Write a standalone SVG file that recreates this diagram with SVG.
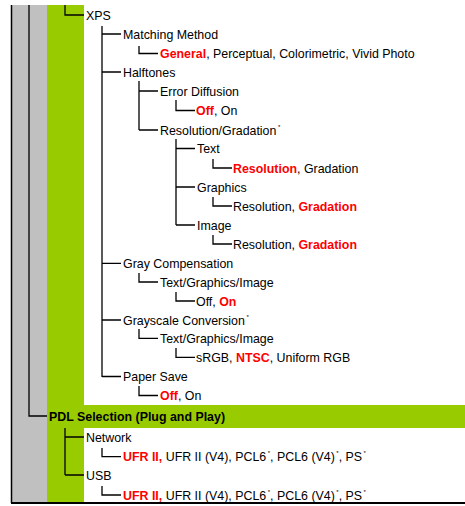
<svg xmlns="http://www.w3.org/2000/svg" width="465" height="506" viewBox="0 0 465 506">
<style>
text{font-family:"Liberation Sans",Arial,sans-serif;font-size:12.4px;fill:#000}
.b{font-weight:bold}
.r{font-weight:bold;fill:#ff0000}
.sup{font-size:6px}
.c{stroke:#000;stroke-width:1.3;fill:none}
</style>
<rect width="465" height="506" fill="#fff"/>
<g id="bands">
<rect x="11" y="5" width="36" height="498" fill="#c0c0c0"/>
<rect x="47" y="5" width="37" height="498" fill="#99cc00"/>
<rect x="47" y="405" width="418" height="23" fill="#99cc00"/>
<line x1="11.5" y1="5" x2="11.5" y2="503" stroke="#000" stroke-width="1.5"/>
<rect x="11" y="502" width="454" height="2" fill="#000"/>
</g>
<g id="connectors" class="c">
<path d="M29 5V416H47"/>
<path d="M65 5V15H84"/>
<path d="M102 26V377"/>
<path d="M102 34H121M102 72H121M102 263.3H121M102 320H121M102 376.5H121"/>
<path d="M139 46V53.5H158"/>
<path d="M139 81V130M139 91H158M139 130H158"/>
<path d="M176 100V110.5H195"/>
<path d="M176 139V225M176 148.5H195M176 187H195M176 225H195"/>
<path d="M213 159V168H232M213 197V206H232M213 235V244H232"/>
<path d="M139 273V282H158"/>
<path d="M176 292V301H195"/>
<path d="M139 329V338.3H158"/>
<path d="M176 348V357.3H195"/>
<path d="M139 386V395.5H158"/>
<path d="M65 428V475M65 437H84M65 475H84"/>
<path d="M102 448V456.7H121M102 486V495H121"/>
</g>
<g id="n-xps"><text x="86" y="19.5">XPS</text></g>
<g id="n-matching"><text x="123" y="38.5">Matching Method</text></g>
<g id="n-matching-opt"><text x="160" y="58"><tspan class="r">General</tspan>, Perceptual, Colorimetric, Vivid Photo</text></g>
<g id="n-halftones"><text x="123" y="76.5">Halftones</text></g>
<g id="n-error"><text x="160" y="95.5">Error Diffusion</text></g>
<g id="n-error-opt"><text x="196" y="115"><tspan class="r">Off</tspan>, On</text></g>
<g id="n-resgrad"><text x="160" y="134.5">Resolution/Gradation<tspan class="sup" dx="1.5" dy="-6">*</tspan></text></g>
<g id="n-text"><text x="197" y="153">Text</text></g>
<g id="n-text-opt"><text x="233" y="172.5"><tspan class="r">Resolution</tspan>, Gradation</text></g>
<g id="n-graphics"><text x="197" y="191.5">Graphics</text></g>
<g id="n-graphics-opt"><text x="233" y="210.5">Resolution, <tspan class="r">Gradation</tspan></text></g>
<g id="n-image"><text x="197" y="229.5">Image</text></g>
<g id="n-image-opt"><text x="233" y="248.5">Resolution, <tspan class="r">Gradation</tspan></text></g>
<g id="n-graycomp"><text x="123" y="267.8">Gray Compensation</text></g>
<g id="n-graycomp-tgi"><text x="160" y="286.5">Text/Graphics/Image</text></g>
<g id="n-graycomp-opt"><text x="196" y="305.5">Off, <tspan class="r">On</tspan></text></g>
<g id="n-grayscale"><text x="123" y="324.5">Grayscale Conversion<tspan class="sup" dx="1.5" dy="-6">*</tspan></text></g>
<g id="n-grayscale-tgi"><text x="160" y="342.8">Text/Graphics/Image</text></g>
<g id="n-grayscale-opt"><text x="196" y="361.8">sRGB, <tspan class="r">NTSC</tspan>, Uniform RGB</text></g>
<g id="n-papersave"><text x="123" y="381">Paper Save</text></g>
<g id="n-papersave-opt"><text x="160" y="400"><tspan class="r">Off</tspan>, On</text></g>
<g id="n-pdl"><text class="b" x="49" y="420.5">PDL Selection (Plug and Play)</text></g>
<g id="n-network"><text x="86" y="441.5">Network</text></g>
<g id="n-network-opt"><text x="123" y="461.2"><tspan class="r">UFR II,</tspan> UFR II (V4), PCL6<tspan class="sup" dx="1.5" dy="-6">*</tspan><tspan dy="6">, PCL6 (V4)</tspan><tspan class="sup" dx="1.5" dy="-6">*</tspan><tspan dy="6">, PS</tspan><tspan class="sup" dx="1.5" dy="-6">*</tspan></text></g>
<g id="n-usb"><text x="86" y="479.5">USB</text></g>
<g id="n-usb-opt"><text x="123" y="499.5"><tspan class="r">UFR II,</tspan> UFR II (V4), PCL6<tspan class="sup" dx="1.5" dy="-6">*</tspan><tspan dy="6">, PCL6 (V4)</tspan><tspan class="sup" dx="1.5" dy="-6">*</tspan><tspan dy="6">, PS</tspan><tspan class="sup" dx="1.5" dy="-6">*</tspan></text></g>
</svg>
